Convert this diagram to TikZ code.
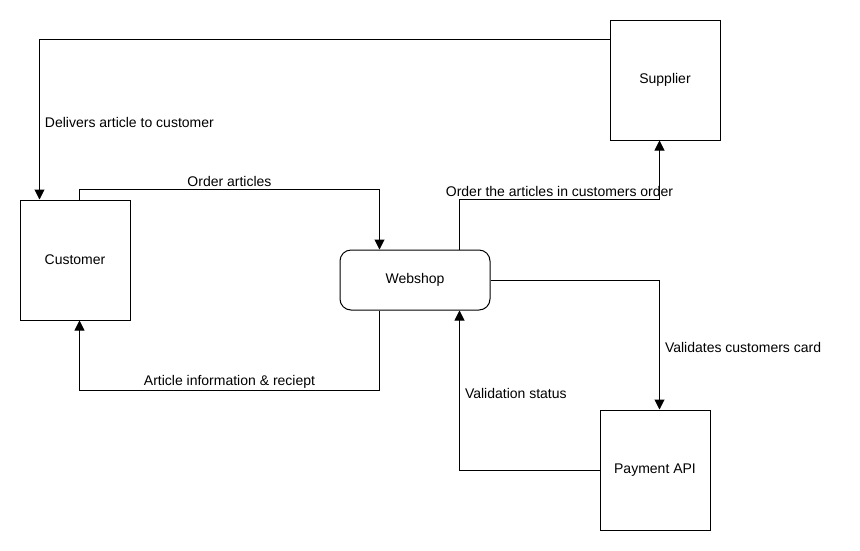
\documentclass[tikz,border=0pt]{standalone}
\usepackage{fontspec}
\setmainfont{Liberation Sans}
\usetikzlibrary{arrows.meta}
\usetikzlibrary{positioning}

\tikzset{
    entity/.style={draw=black, line width=1pt, minimum width=110pt, minimum height=120pt, inner sep=0pt},
    process/.style={draw=black, line width=1pt, rounded corners=11pt, minimum width=150pt, minimum height=60pt, inner sep=0pt},
    flow/.style={line width=1pt, -{Triangle[length=10pt, width=10pt]}},
    flowlabel/.style={inner sep=2pt},
    sidelabel/.style={flowlabel, right=3pt, yshift=-3pt}
}

\begin{document}
\begin{tikzpicture}[x=1pt, y=-1pt, font=\fontsize{14}{16}\selectfont]
                \useasboundingbox (0, 0) rectangle (860, 550);
                \node[entity] (supplier) at (665, 80) {Supplier};
                \node[entity] (customer) at (75, 260) {Customer};
                \node[process] (webshop) at (415, 280) {Webshop};
                \node[entity] (payment) at (655, 470) {Payment API};
                % flows between the entities and the webshop
                \draw[flow] ([yshift=-20pt]supplier.north west) -| node[pos=0.75, sidelabel]{Delivers article to customer} ([xshift=20pt]customer.north west);
                \draw[flow] ([xshift=60pt]customer.north west) -- ++(0, -10) -| node[pos=0.25, above, flowlabel]{Order articles} ([xshift=40pt]webshop.north west);
                \draw[flow] ([xshift=120pt]webshop.north west) -- ++(0, -50) -| node[pos=0.25, above, flowlabel]{Order the articles in customers order} ([xshift=50pt]supplier.south west);
                \draw[flow] (webshop.east) -| node[pos=0.75, sidelabel]{Validates customers card} ([xshift=60pt]payment.north west);
                \draw[flow] (payment.west) -| node[pos=0.75, sidelabel]{Validation status} ([xshift=120pt]webshop.south west);
                \draw[flow] ([xshift=40pt]webshop.south west) -- ++(0, 80) -| node[pos=0.25, above, flowlabel]{Article information \& reciept} ([xshift=60pt]customer.south west);
            \end{tikzpicture}
\end{document}
